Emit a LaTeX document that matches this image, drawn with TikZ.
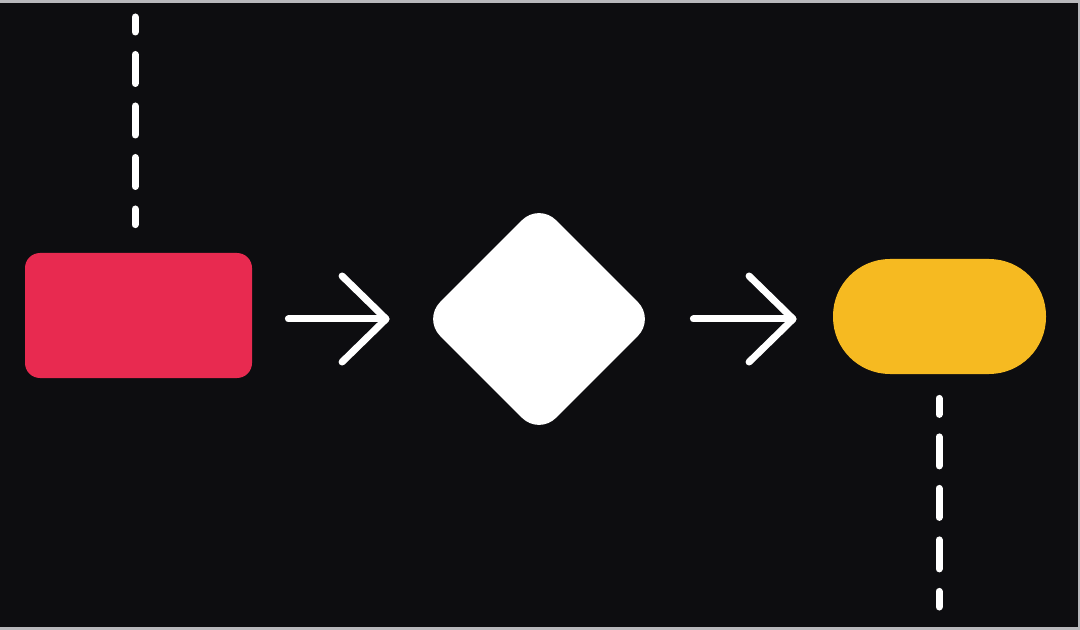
\documentclass[tikz,border=0pt]{standalone}
\usetikzlibrary{shapes.geometric,arrows.meta}

\definecolor{bgdark}{HTML}{0D0D10}
\definecolor{edgegray}{HTML}{B8B8BC}
\definecolor{startred}{HTML}{E82A50}
\definecolor{endyellow}{HTML}{F6BA21}

\tikzset{
    flowarrow/.style={draw=white, line width=3.5pt, line cap=round,
        -{Straight Barb[length=22pt, width=43pt, round]}},
    dashline/.style={draw=white, line width=3.5pt, line cap=round,
        dash pattern=on 14.5pt off 11.25pt},
}

\begin{document}
\begin{tikzpicture}[x=0.5pt, y=-0.5pt]
    % background and frame
    \fill[bgdark] (0,0) rectangle (1080,630);
    \useasboundingbox (0,0) rectangle (1080,630);
    \fill[edgegray] (0,0) rectangle (1080,3);
    \fill[edgegray] (1078,0) rectangle (1080,630);
    \fill[edgegray] (0,627) rectangle (1080,630);

    \node (start) [rectangle, rounded corners=7.5pt, fill=startred, minimum width=113.5pt, minimum height=62.5pt, inner sep=0pt] at (138.5,315.5) {};
    \node (dec) [diamond, rounded corners=12pt, fill=white, minimum width=116pt, minimum height=116pt, inner sep=0pt] at (539,319) {};
    \node (stop) [rectangle, rounded corners=28.5pt, fill=endyellow, minimum width=106.5pt, minimum height=57.5pt, inner sep=0pt] at (939.5,316.5) {};

    \coordinate (intop) at (135,17);
    \coordinate (outbot) at (939,607);

    \draw[dashline, dash phase=7pt, shorten >=14pt] (intop) -- (intop |- start.north);
    \draw[flowarrow, shorten <=18pt, shorten >=16.5pt] (start.east |- dec.west) -- (dec.west);
    \draw[flowarrow, shorten <=19pt, shorten >=18pt] (dec.east) -- (stop.west |- dec.east);
    \draw[dashline, dash phase=6.5pt, shorten <=12pt] (stop.south -| outbot) -- (outbot);
\end{tikzpicture}
\end{document}
